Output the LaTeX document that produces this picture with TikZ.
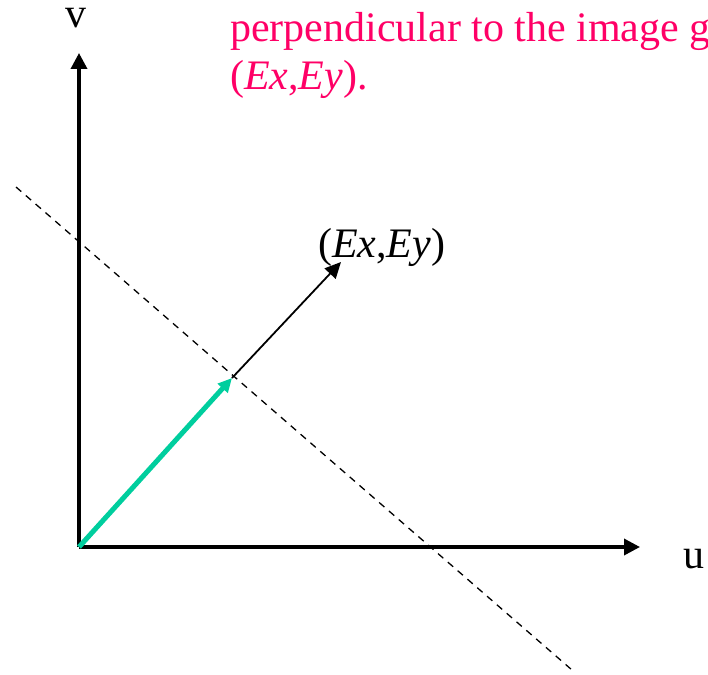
\documentclass[tikz,border=0pt]{standalone}
\usepackage{fontspec}
\setmainfont{Liberation Serif}
\usetikzlibrary{arrows.meta}
\definecolor{pinktext}{RGB}{255,0,102}
\definecolor{tealgreen}{RGB}{0,206,158}
\begin{document}
\begin{tikzpicture}[x=1pt,y=-1pt,
  lbl/.style={inner sep=0pt,anchor=base west,font=\fontsize{42}{48}\selectfont},
  axis/.style={line width=3.5pt,-{Triangle[length=16pt,width=16pt]}},
  dashline/.style={line width=1.3pt,dash pattern=on 7pt off 6pt},
  gvec/.style={line width=5pt,draw=tealgreen,-{Triangle[length=14pt,width=13pt]}},
  evec/.style={line width=1.8pt,-{Triangle[length=16pt,width=15pt]}}]
\useasboundingbox (0,0) rectangle (708,674);
\coordinate (O) at (79,547);
\coordinate (vend) at (79,53);
\coordinate (uend) at (640,547);
\coordinate (P) at (232,378);
\coordinate (E) at (341,262);
\coordinate (d1) at (16,187);
\coordinate (d2) at (572,670);
\draw[dashline] (d1) -- (d2);
\draw[axis] (O) -- (vend);
\draw[axis] (O) -- (uend);
\draw[evec] (P) -- (E);
\draw[gvec] (O) -- (P);
\node[lbl] (vlab) at (65,28) {v};
\node[lbl] (ulab) at (683,568) {u};
\node[lbl] (elab) at (318,257) {(\textit{Ex},\textit{Ey})};
\node[lbl,text=pinktext] (t1) at (230,42) {perpendicular to the image g};
\node[lbl,text=pinktext] (t2) at (230,89) {(\textit{Ex},\textit{Ey}).};
\end{tikzpicture}
\end{document}
